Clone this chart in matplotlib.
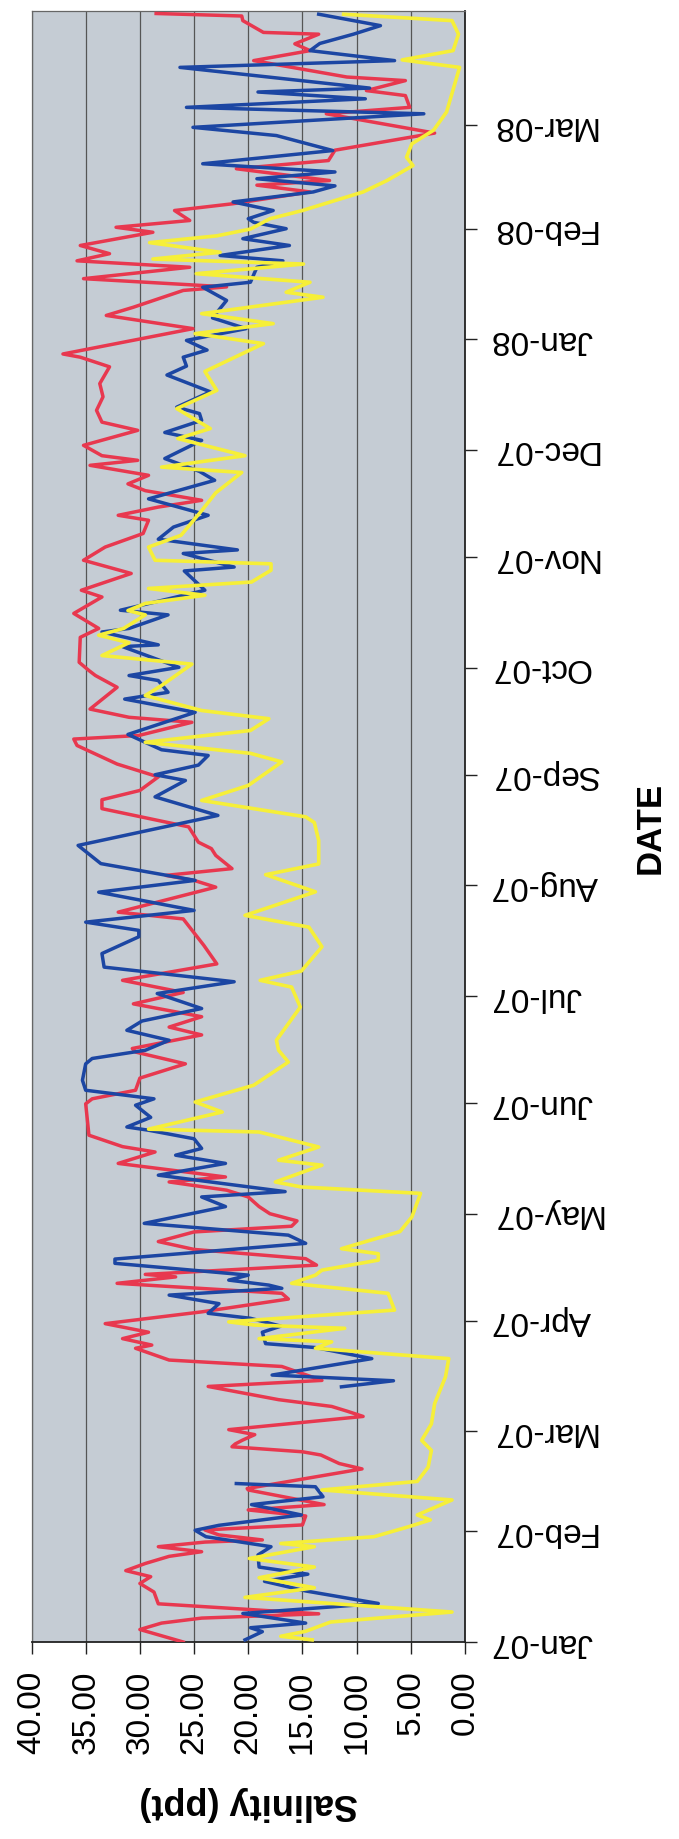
import numpy as np
import pandas as pd
import matplotlib
matplotlib.use('Agg')
import matplotlib.pyplot as plt

plt.rcParams['font.family'] = ['Liberation Sans', 'DejaVu Sans']

start = pd.Timestamp('2007-01-01')
end = pd.Timestamp('2008-04-02')

# days after 1 Jan 2007, salinity in ppt
red_day = [0, 3.5, 5.3, 6.7, 7.9, 10.7, 14, 16.4, 18.3, 20, 22, 24, 25.3, 26.7, 28, 28.6, 30, 31.4,
           32.8, 35.3, 37, 38.5, 42.6, 43, 48.5, 50, 52.4, 53.3, 54.7, 55.5, 56.6, 58.1, 59.5, 63.2,
           64.6, 66, 67.9, 71.6, 73.3, 77.2, 79, 82.3, 83.2, 85, 86.8, 89.2, 92.5, 96.1, 97.7, 100.5,
           102.3, 103, 105.6, 107.4, 110, 112.2, 114.9, 116.5, 118, 120, 122, 124.7, 126.6, 128.9,
           130.3, 134.1, 137.3, 138.8, 142, 150.8, 152.2, 154.6, 158, 162, 165.3, 166.3, 170.1, 172.3,
           175.2, 178.8, 182, 185.4, 190, 195.2, 202.6, 204.5, 211.5, 213.4, 214.8, 216.7, 220.4,
           222.3, 224.1, 228.4, 233.5, 236, 238.6, 242.4, 246, 251.2, 253, 254, 257.7, 259.1, 261.4,
           267.5, 270.8, 272.2, 274.5, 281.5, 284, 288.2, 292.8, 294.7, 299.4, 303.1, 306.8, 310.6,
           314.3, 315.7, 318, 319.9, 322.6, 324.5, 326.9, 329.7, 331.1, 332.4, 335.3, 339.5, 341.8,
           345.1, 348.9, 352.6, 357.3, 360, 360.9, 368, 371.7, 374, 378.7, 379.7, 382, 385.2, 387,
           389, 391.3, 395, 396.4, 398.3, 401.1, 403, 406.3, 408.2, 409.5, 412.8, 415.1, 418, 422.8,
           428.2, 430, 433.3, 434.7, 437.5, 438.5, 443.1, 445.9, 447.8, 450.5, 451, 454.3, 455.6, 456.3]
red_ppt = [26, 30, 28, 24.3, 13.5, 28.3, 28.7, 30, 29, 31.3, 29.5, 27.3, 24.3, 28.3, 24, 18.7, 22.7, 24,
           15, 14.7, 20, 13, 20, 20.1, 9.5, 11.6, 13.3, 15, 21.5, 21.2, 20.5, 19.4, 21.8, 9.4,
           10.8, 12.3, 17.2, 23.7, 13.2, 16.9, 27.3, 30.4, 28.9, 31.6, 29.2, 33.2, 24.3, 16.3, 16.9, 32.1,
           26.7, 29.5, 13.7, 14.7, 25, 28.3, 25, 16, 15.5, 18, 19, 20, 22, 27.3,
           22.1, 32, 28.6, 31.6, 34.7, 35, 34.4, 30.4, 30, 25.8, 30.4, 30.7, 24.3, 27.3,
           24.3, 30.6, 26, 31.6, 22.9, 24.1, 26, 32, 23, 25, 27.6, 21.5, 23,
           23.4, 24.6, 25.5, 33.5, 33.5, 30, 28.3, 32.1, 35.8, 36.1, 30.1, 25.2, 31, 34.6,
           32.1, 34.1, 34.7, 35.6, 35.5, 33.8, 36.1, 33.5, 35.4, 30.8, 35.2, 33.2, 29.7,
           29.2, 32, 28.3, 24.3, 29.5, 31.1, 29.2, 34.6, 30.2, 33.5, 35.2, 30.2, 33.5,
           34, 33.4, 33.7, 32.8, 35.5, 37.1, 25.1, 33.1, 30.6, 26, 22, 35.2, 25.4, 35.8,
           32.8, 35.5, 28.8, 32.2, 25.4, 26.8, 21.4, 14.3, 19.2, 12.5, 21.1, 12.6, 12, 2.8,
           12.8, 5.1, 5.5, 9.1, 5.5, 10.9, 19.5, 14.3, 15.7, 13.5, 18.6, 20.5, 20.6, 28.5]

# blue has no readings between mid Feb and mid Mar 2007 (nan = gap)
blue_day = [0.6, 2.9, 4, 5.3, 8, 10.8, 14.3, 17, 19, 21, 24.4, 26.7, 29.5, 31.3, 32.7, 35.6, 38.5,
            40.7, 43.5, 44.4, 45, 71.5, 73.2, 74.8, 79.4, 82.5, 83.6, 86.8, 88.5, 90.7, 92.1, 94.8,
            97.2, 99.1, 100, 101.4, 102.8, 106.1, 107.3, 111.7, 114, 117.3, 122, 124.7, 126.2, 130.8,
            134.1, 136.4, 138.3, 141, 143.4, 144.3, 147, 150.4, 152.2, 154.6, 157.4, 162, 163.5,
            165.8, 168.6, 171.4, 174, 177.5, 181.7, 185, 189.1, 192.9, 197.6, 199.4, 201.7, 205,
            210.1, 213.4, 218.1, 223.2, 231.6, 236.8, 241.4, 243, 245.7, 248.4, 250, 254.3, 260.5,
            264.2, 266.1, 269.4, 270.8, 273.1, 278.9, 279.4, 283, 284, 287.8, 289.1, 294.7, 300.1,
            301.2, 305, 306, 309, 312.4, 315.7, 320.3, 325.5, 328, 331.6, 336.7, 338.9, 342.3,
            344.2, 346, 350.3, 355, 357.5, 360, 362, 364.7, 368, 371, 375.9, 379.6, 381, 385.2,
            387, 388.5, 391.3, 393.2, 396, 397.8, 398.8, 401.1, 403.5, 406.3, 408, 410, 411.9,
            414.2, 417.9, 422.1, 424.4, 428.2, 430, 432.4, 434.3, 435.4, 441.2, 443.1, 445.9,
            447.9, 450.5, 452.9, 456.1]
blue_ppt = [20.3, 18.7, 19.8, 14.7, 20.5, 8, 14.7, 18.5, 14.5, 19, 19.1, 17.9, 23.9, 24.9, 22.7, 15.1, 19.7,
            13.1, 13.8, 21.1, np.nan, 11.4, 6.6, 17.8, 8.6, 13.8, 18.4, 18.7, 17, 19.8, 23.7, 22.7,
            27.3, 16.9, 18.1, 21.8, 20, 32.3, 32.3, 14.7, 16.3, 29.6, 22.1, 24.3, 16.6, 28.3,
            22.1, 26.7, 24.3, 25, 29.2, 31.2, 29, 30.4, 28.7, 35, 35.3, 35, 34.4,
            29.5, 27.3, 31.2, 29.8, 24.3, 28.4, 21.3, 33.3, 33.5, 30.1, 30.1, 35, 25,
            33.8, 24.9, 33.6, 35.7, 22.8, 28.6, 25.8, 28.6, 24.6, 23.7, 28, 31.1, 24.9,
            31.4, 27.4, 28.3, 31, 26.4, 31.6, 28.3, 33.5, 31, 27.4, 31.8, 24, 25.9,
            21.3, 26, 21, 28.3, 26.9, 23.7, 29.2, 23.1, 24.5, 27.7, 24.3, 27.7, 24.3,
            24.5, 26.6, 23.5, 27.5, 25.7, 26, 23.8, 25.7, 20.2, 23.3, 22, 24.2, 19.8, 19.2,
            16.8, 22.6, 16.2, 20.5, 16.5, 19.5, 20, 17.7, 21.4, 14, 12, 19.2, 12,
            24.2, 12.2, 17.4, 25.1, 3.8, 25.7, 9.2, 19.1, 8.8, 26.3, 6.5, 14.3,
            13.4, 10.3, 7.8, 13.5]

yellow_day = [0.6, 1.6, 3, 5.6, 8.4, 12.5, 15.2, 18, 21, 23.4, 26.7, 27.6, 29.5, 32.3, 34.2, 35.6, 39.8,
              42.6, 45, 49, 53.7, 56.5, 61.1, 66.8, 74.3, 79.4, 82.3, 84.1, 85, 87.9, 88.8, 89.7, 93,
              97.7, 100.5, 102.8, 104.2, 107, 108.8, 110.2, 115, 119.1, 125.7, 127.5, 128.9, 133.6,
              135, 138.7, 142.9, 143.7, 148.5, 151.3, 156, 162.5, 165.8, 168.6, 177.9, 183.5, 185.4,
              188, 194.8, 200.3, 203.6, 210.2, 215, 218, 224.6, 229.6, 231.2, 235.8, 240, 246.6, 249,
              252.1, 255.4, 258.7, 261, 265.2, 268, 274, 276.4, 280, 282.1, 284, 287.8, 289, 291,
              293.3, 295.2, 297, 300.3, 302.1, 303.1, 306.8, 310.1, 317, 322, 327.7, 329.2, 332.4,
              337.2, 340, 345.6, 350.7, 356, 363.8, 366.6, 369.4, 372.2, 376.8, 378.2, 381, 383.4,
              386.1, 387.5, 389.4, 392.1, 394, 395.9, 398.8, 401.1, 406.3, 409.5, 413.7, 416, 419.8,
              423.6, 428.7, 441.2, 443.3, 445.9, 450.5, 454.3, 456.1]
yellow_ppt = [14.1, 17, 14.7, 12.4, 1.2, 20.3, 13.9, 19, 13.9, 19.9, 13.9, 17, 8.4, 5.2, 3.2, 4.4, 1.2,
              13.2, 4.4, 3.4, 3.1, 4, 3.1, 2.8, 1.8, 1.5, 13.8, 12.3, 19, 11.1, 19.4, 21.8, 6.5,
              7.1, 16, 13.8, 13.2, 8, 8, 11.4, 6, 4.9, 4.1, 15.1, 17.5, 13.2,
              17.2, 13.5, 19, 29.2, 22.4, 24.9, 19.5, 16.3, 17.2, 17.4, 15.2, 16, 18.9,
              15.1, 13.2, 14.4, 20.3, 13.8, 18.4, 13.5, 13.5, 13.9, 14.7, 24.3, 20, 16.9, 19.8,
              29.5, 19.8, 18.1, 24.3, 29.5, 28, 25.2, 33.5, 31, 33.8, 31.5, 29.5, 31.1, 29.5,
              24, 29.2, 19.7, 17.9, 17.9, 28.6, 29.2, 26.2, 24.3, 23, 20.6, 28, 20.3,
              26.5, 23.5, 26.6, 22.9, 24, 18.6, 24.9, 17.7, 24.3, 13.1, 16.5, 14.3, 24.8,
              14.9, 28.8, 22.6, 29.1, 22.9, 19.8, 18, 15, 9.4, 7.2, 4.8, 5.4, 4.9,
              2.9, 1.7, 0.5, 5.8, 1.1, 0.6, 1.2, 11.2]

salinity_ticks = [0, 5, 10, 15, 20, 25, 30, 35, 40]
month_ticks = pd.date_range('2007-01-01', '2008-03-01', freq='MS')


def to_dates(days):
    return start + pd.to_timedelta(np.array(days, dtype=float), unit='D')


fig = plt.figure(figsize=(6.79, 18.39), dpi=100)
ax = fig.add_axes([31.5 / 679, 1 - 1642 / 1839, 433.5 / 679, 1631 / 1839])
ax.set_facecolor('#c5ccd4')

# chart is turned on its side: salinity runs right to left, dates bottom to top
ax.plot(red_ppt, to_dates(red_day), color='#e8384f', lw=2.5, zorder=3)
ax.plot(blue_ppt, to_dates(blue_day), color='#1c46a3', lw=2.5, zorder=4)
ax.plot(yellow_ppt, to_dates(yellow_day), color='#f6ef38', lw=2.6, zorder=5)

ax.set_xlim(40, 0)
ax.set_ylim(start, end)

ax.set_xticks(salinity_ticks)
ax.set_xticklabels(['%.2f' % v for v in salinity_ticks])
ax.tick_params(axis='x', labelrotation=90, labelsize=24, length=8.5, width=1, pad=12,
               direction='out', color='#222222')

ax.yaxis.tick_right()
ax.set_yticks(month_ticks)
ax.set_yticklabels([d.strftime('%b-%y') for d in month_ticks])
ax.tick_params(axis='y', labelrotation=180, labelsize=24, length=8.5, width=1, pad=10,
               direction='out', color='#222222')
for lab in ax.get_yticklabels():
    lab.set_verticalalignment('center')

ax.grid(axis='x', color='#555555', lw=0.9)
ax.set_axisbelow(True)

for side in ['left', 'top']:
    ax.spines[side].set_color('#666666')
    ax.spines[side].set_linewidth(0.9)
for side in ['bottom', 'right']:
    ax.spines[side].set_color('#222222')
    ax.spines[side].set_linewidth(1.3)

ax.set_xlabel('Salinity (ppt)', fontsize=26, fontweight='bold', rotation=180, va='center')
ax.xaxis.set_label_coords(0.5, (1642 - 1803) / 1631)
ax.yaxis.set_label_position('right')
ax.set_ylabel('DATE', fontsize=25, fontweight='bold', rotation=90, va='center')
ax.yaxis.set_label_coords((650 - 31.5) / 433.5, (1642 - 828) / 1631)

fig.savefig('out.png', dpi=100, facecolor='white')
